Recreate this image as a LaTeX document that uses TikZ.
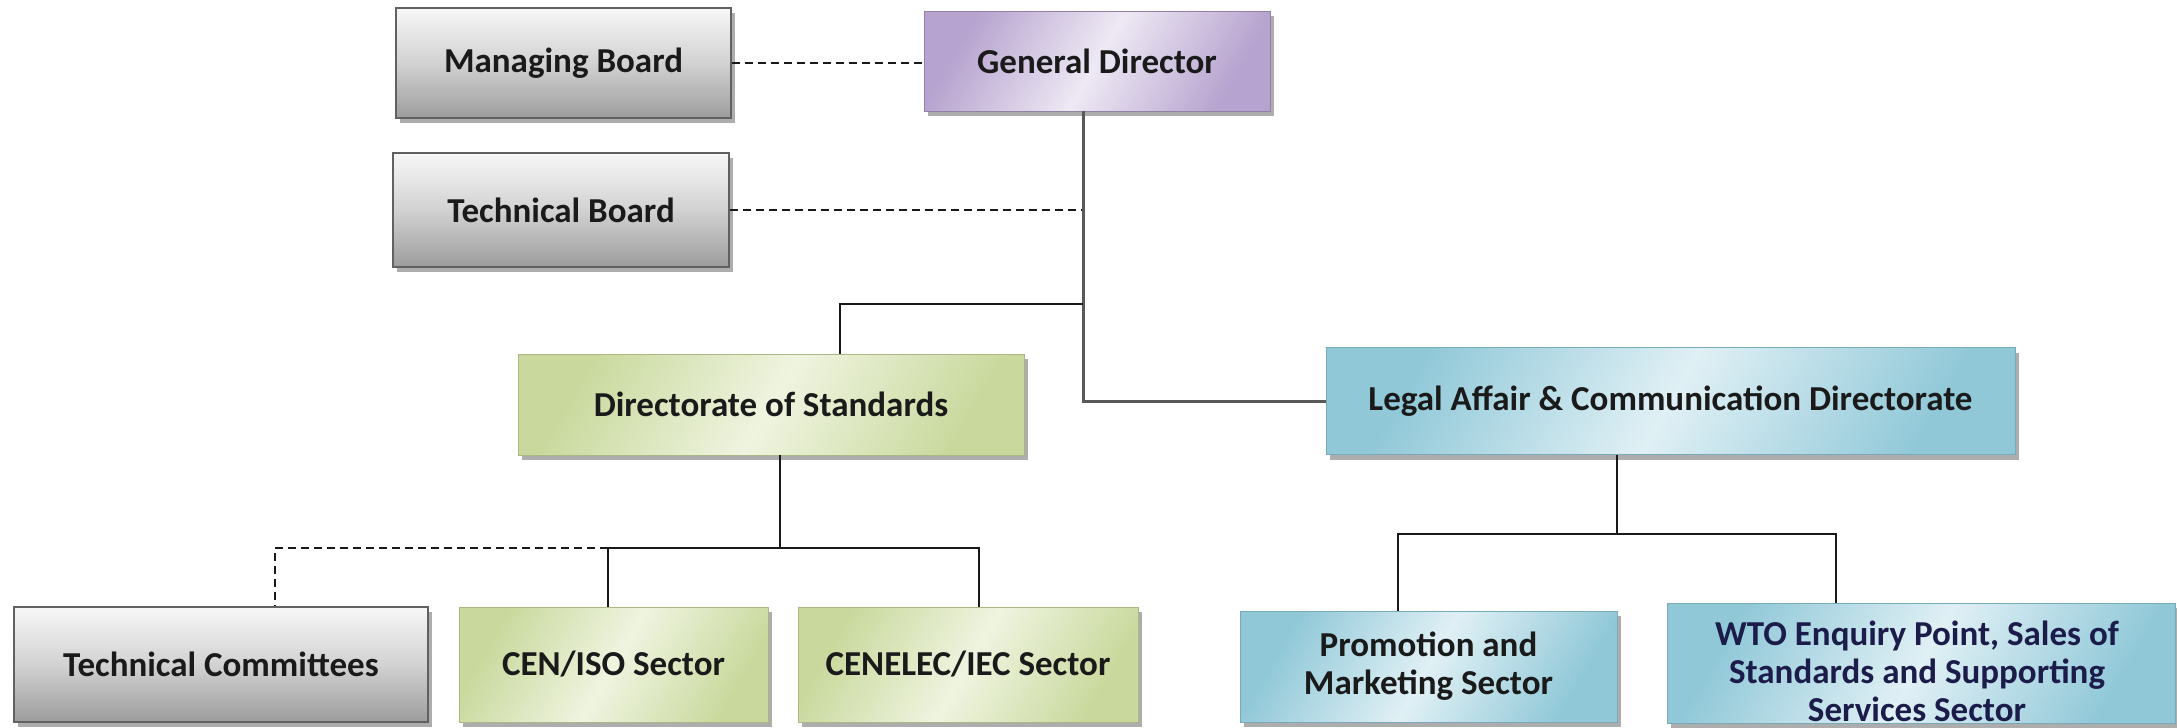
\documentclass[tikz,border=0pt]{standalone}
\usepackage{fontspec}
\setmainfont{Carlito}
\usetikzlibrary{shadows}
\definecolor{txt}{HTML}{1A1A1A}
\definecolor{navy}{HTML}{1C1C4A}
\definecolor{grayD}{HTML}{9C9C9C}
\definecolor{grayM}{HTML}{D2D2D2}
\definecolor{grayL}{HTML}{F7F7F7}
\definecolor{purD}{HTML}{B7A3CF}
\definecolor{purL}{HTML}{EEE9F4}
\definecolor{grnD}{HTML}{C9D99D}
\definecolor{grnL}{HTML}{EFF4E0}
\definecolor{bluD}{HTML}{90C8D8}
\definecolor{bluL}{HTML}{E0F0F5}
\begin{document}
\begin{tikzpicture}[x=1pt,y=-1pt,
  basebox/.style={inner sep=0pt, align=center, text=txt,
    font=\fontsize{35}{38}\selectfont\bfseries,
    drop shadow={shadow xshift=4pt, shadow yshift=-5pt, fill=black!40, opacity=0.8}},
  graybox/.style={basebox, draw=black!62, line width=1.6pt,
    top color=grayL, bottom color=grayD, middle color=grayM},
  purbox/.style={basebox, draw=purD!80!black, line width=0.8pt,
    top color=purD, bottom color=purD, middle color=purL, shading angle=60},
  grnbox/.style={basebox, draw=grnD!85!black, line width=0.8pt,
    top color=grnD, bottom color=grnD, middle color=grnL, shading angle=60},
  blubox/.style={basebox, draw=bluD!85!black, line width=0.8pt,
    top color=bluD, bottom color=bluD, middle color=bluL, shading angle=60},
  conn/.style={line width=2.2pt, black!90},
  trunk/.style={line width=3pt, black!65},
  dashline/.style={line width=2.5pt, black!90, dash pattern=on 8pt off 5pt}
]
\useasboundingbox (0,0) rectangle (2177,728);

% boxes
\node[graybox, minimum width=335pt, minimum height=110pt] (mb) at (563.5,63) {Managing Board};
\node[purbox, minimum width=346pt, minimum height=100pt] (gd) at (1097,61) {General Director};
\node[graybox, minimum width=336pt, minimum height=114pt] (tb) at (561,210) {Technical Board};
\node[grnbox, minimum width=506pt, minimum height=101pt] (ds) at (771,404.5) {Directorate of Standards};
\node[blubox, minimum width=689pt, minimum height=107pt] (leg) at (1670.5,401) {Legal Affair \& Communication Directorate};
\node[graybox, minimum width=414pt, minimum height=115pt] (tc) at (221,664.5) {Technical Committees};
\node[grnbox, minimum width=309pt, minimum height=115pt] (cen) at (613.5,664.5) {CEN/ISO Sector};
\node[grnbox, minimum width=340pt, minimum height=115pt] (cel) at (968,664.5) {CENELEC/IEC Sector};
\node[blubox, minimum width=377pt, minimum height=111pt] (pro) at (1428.5,666.5) {Promotion and\\Marketing Sector};
\node[blubox, minimum width=508pt, minimum height=120pt] (wto) at (1921,663) {};
\node[inner sep=0pt, align=center, text=navy, font=\fontsize{35}{38}\selectfont\bfseries] (wtot) at (1917,671)
  {WTO Enquiry Point, Sales of\\Standards and Supporting\\Services Sector};

% coordinates of junctions
\coordinate (tx) at (1083,0);
\coordinate (b1) at (1083,304);
\coordinate (dsx) at (840,304);
\coordinate (j1) at (780,548);
\coordinate (c1) at (608,548);
\coordinate (c2) at (979,548);
\coordinate (d1) at (275,548);
\coordinate (j2) at (1617,534);
\coordinate (p1) at (1398,534);
\coordinate (w1) at (1836,534);

% connectors
\draw[dashline] (mb.east) -- (mb.east -| gd.west);
\draw[dashline] (tb.east) -- (tb.east -| tx);
\draw[trunk] (gd.south -| tx) -- (tx |- leg.west) -- (leg.west);
\draw[conn] (b1) -- (dsx) -- (ds.north -| dsx);
\draw[conn] (ds.south -| j1) -- (j1);
\draw[conn] (cen.north -| c1) -- (c1) -- (c2) -- (cel.north -| c2);
\draw[dashline] (c1) -- (d1) -- (tc.north -| d1);
\draw[conn] (leg.south -| j2) -- (j2);
\draw[conn] (pro.north -| p1) -- (p1) -- (w1) -- (wto.north -| w1);
\end{tikzpicture}
\end{document}
